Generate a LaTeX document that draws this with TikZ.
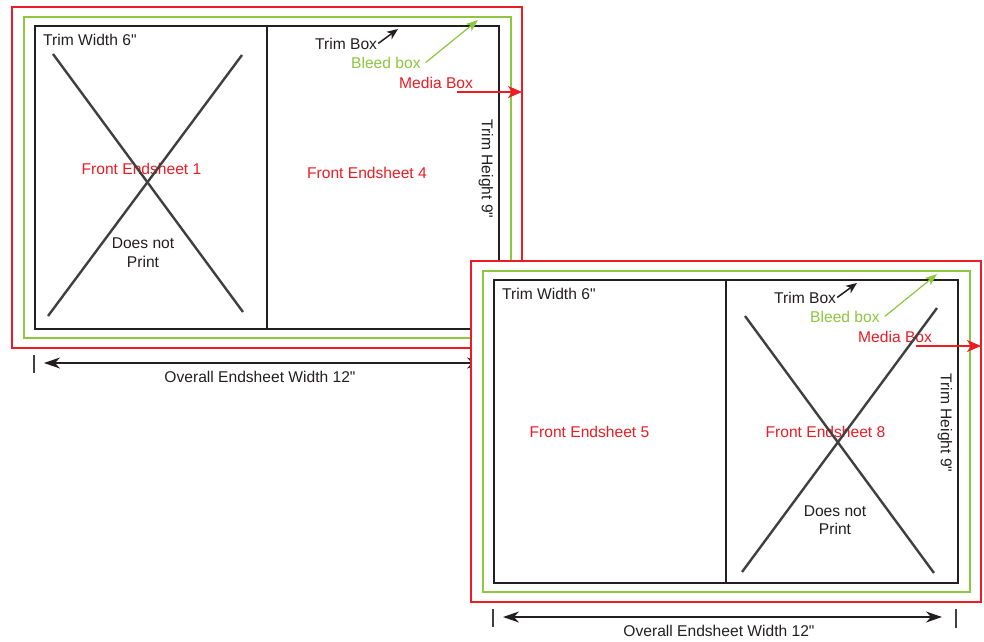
\documentclass[tikz,border=0pt]{standalone}
\usepackage{fontspec}
\setmainfont{Liberation Sans}[Ligatures=TeXOff]
\usetikzlibrary{arrows.meta}
\definecolor{mred}{HTML}{ED1C24}
\definecolor{bgreen}{HTML}{8DC63F}
\definecolor{tblack}{HTML}{231F20}
\definecolor{xgray}{HTML}{404040}
\newcommand\inch{\symbol{34}}
\newcommand\sheetframe{%
  \draw[mediabox] (12,7) rectangle (522,348);
  \draw[bleedbox] (24,17) rectangle (511,338);
  \draw[trimbox] (35,26) rectangle (499,329);
  \draw[trimbox] (267,26) -- (267,329);
  \node[lbl,anchor=base west] (tw) at (43,45) {Trim Width 6\inch};
  \node[lbl,anchor=base west] (tb) at (315,49) {Trim Box};
  \coordinate (tbtip) at (398,29);
  \draw[tarrow] ([xshift=1pt]tb.east) -- (tbtip);
  \node[greenlbl,anchor=base west] (bb) at (351,68) {Bleed box};
  \coordinate (bbtip) at (478,20);
  \draw[barrow] ([xshift=5pt]bb.east) -- (bbtip);
  \node[redlbl,anchor=base west] (mb) at (399,88) {Media Box};
  \coordinate (mbstart) at (457,92);
  \coordinate (mbtip) at (522,92);
  \draw[marrow] (mbstart) -- (mbtip);
  \node[lbl,rotate=-90] (th) at (486,169) {Trim Height 9\inch};
  \draw[tick] (34,355) -- (34,373);
  \draw[tick] (497,355) -- (497,374);
  \coordinate (dimL) at (44,363);
  \coordinate (dimR) at (483,363);
  \draw[dimarrow] (dimL) -- (dimR);
  \node[lbl,anchor=base] (ow) at (260,382) {Overall Endsheet Width 12\inch};
}
\begin{document}
\begin{tikzpicture}[x=1pt,y=-1pt,
  lbl/.style={inner sep=0pt,font=\fontsize{15.6}{18}\selectfont,text=tblack},
  redlbl/.style={lbl,text=mred},
  greenlbl/.style={lbl,text=bgreen},
  mediabox/.style={draw=mred,line width=1.8pt,fill=white},
  bleedbox/.style={draw=bgreen,line width=2.2pt},
  trimbox/.style={draw=tblack,line width=2.3pt},
  xline/.style={draw=xgray,line width=2.4pt},
  tick/.style={draw=xgray,line width=1.3pt},
  tarrow/.style={draw=tblack,line width=1.5pt,-{Stealth[length=11pt,width=9pt,inset=3pt]}},
  barrow/.style={draw=bgreen,line width=1.2pt,-{Stealth[length=12pt,width=9pt,inset=3pt]}},
  marrow/.style={draw=mred,line width=1.3pt,-{Stealth[length=14pt,width=12pt,inset=4pt]}},
  dimarrow/.style={draw=tblack,line width=1.2pt,{Stealth[length=16pt,width=11pt,inset=5pt]}-{Stealth[length=16pt,width=11pt,inset=5pt]}}]
\useasboundingbox (0,0) rectangle (984,641);
% first endsheet spread
\begin{scope}[name prefix=a-]
  \sheetframe
  \node[redlbl,anchor=base] (fe1) at (141.5,174) {Front Endsheet 1};
  \node[redlbl,anchor=base] (fe4) at (367,178) {Front Endsheet 4};
  \node[lbl,anchor=base] (dn) at (143,248) {Does not};
  \node[lbl,anchor=base] (pr) at (143,267) {Print};
  \coordinate (x1a) at (53,54);
  \coordinate (x1b) at (243,312);
  \coordinate (x2a) at (242,55);
  \coordinate (x2b) at (48,316);
  \draw[xline] (x1a) -- (x1b);
  \draw[xline] (x2a) -- (x2b);
\end{scope}
% second endsheet spread
\begin{scope}[shift={(459,254)},name prefix=b-]
  \sheetframe
  \node[redlbl,anchor=base] (fe5) at (130.5,183) {Front Endsheet 5};
  \node[redlbl,anchor=base] (fe8) at (366.5,183) {Front Endsheet 8};
  \node[lbl,anchor=base] (dn) at (376,262) {Does not};
  \node[lbl,anchor=base] (pr) at (376,280) {Print};
  \coordinate (x1a) at (286,62);
  \coordinate (x1b) at (475,319);
  \coordinate (x2a) at (478,54);
  \coordinate (x2b) at (283,318);
  \draw[xline] (x1a) -- (x1b);
  \draw[xline] (x2a) -- (x2b);
\end{scope}
\end{tikzpicture}
\end{document}
